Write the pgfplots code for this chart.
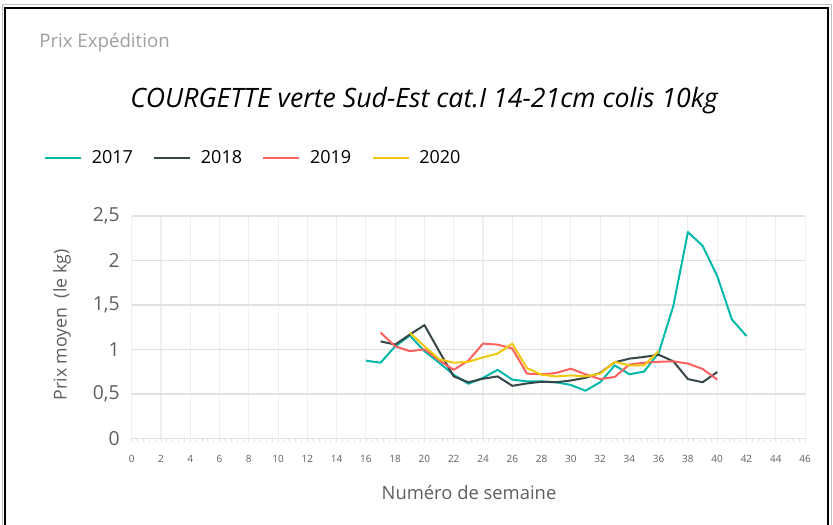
\documentclass[border=0pt]{standalone}
\usepackage{pgfplots}
\pgfplotsset{compat=1.18}
\usepackage{fontspec}
\setmainfont{Open Sans}
\definecolor{c17}{HTML}{01B8AA}
\definecolor{c18}{HTML}{374649}
\definecolor{c19}{HTML}{FD625E}
\definecolor{c20}{HTML}{F2C80F}
\definecolor{txtgray}{HTML}{605E5C}
\definecolor{gridx}{HTML}{EFEFEF}
\definecolor{gridy}{HTML}{E1E1E1}
\begin{document}
\begin{tikzpicture}[x=0.75pt,y=0.75pt]
\path[use as bounding box] (0,0) rectangle (833,525);
\draw[gray!50, line width=0.75pt] (2,-2) -- (2,520) -- (831,520) -- (831,-2);
\draw[line width=1.5pt] (5,-2) -- (5,517) -- (828,517) -- (828,-2);
\node[anchor=west, text=gray!75, inner sep=0pt] at (39,482) {\fontsize{14}{16}\selectfont Prix Expédition};
\node[inner sep=0pt] at (424,424) {\fontsize{20}{23}\selectfont\itshape COURGETTE verte Sud-Est cat.I 14-21cm colis 10kg};
\node[rotate=90, text=txtgray, inner sep=0pt] at (62,200) {\fontsize{13.3}{15}\selectfont Prix moyen\ \ (le kg)};
\node[text=txtgray, inner sep=0pt] at (469,32) {\fontsize{13.8}{16}\selectfont Numéro de semaine};
\begin{axis}[
  at={(98.78pt,65.03pt)}, anchor=south west,
  scale only axis, width=505pt, height=166.7pt,
  xmin=0, xmax=46, ymin=0, ymax=2.5,
  xtick={0,2,...,46}, ytick={0,0.5,...,2.5},
  minor x tick num=4,
  xtick pos=bottom, ytick pos=left,
  axis line style={draw=none},
  xmajorgrids, ymajorgrids,
  x grid style={gridx, line width=0.8pt},
  y grid style={gridy, line width=1pt},
  tick align=outside,
  major x tick style={gridy, line width=0.6pt},
  minor x tick style={gridy, line width=0.6pt},
  major tick length=2.5pt, minor tick length=2.5pt,
  ytick style={draw=none},
  /pgf/number format/assume math mode=true,
  /pgf/number format/use comma,
  yticklabel style={text=txtgray, font=\fontsize{14.5}{16}\selectfont, xshift=-3pt},
  xticklabel style={text=txtgray, font=\fontsize{7.5}{9}\selectfont, yshift=-7pt},
  legend style={at={(-0.131,1.261)}, anchor=west, draw=none, fill=none,
    font=\fontsize{13.5}{15}\selectfont, legend columns=4, inner sep=0pt,
    /tikz/every even column/.append style={column sep=13pt},
    /tikz/every odd column/.append style={column sep=5pt}},
  legend cell align=left,
  legend image code/.code={\draw[#1, line width=2pt] (0pt,0pt) -- (27pt,0pt);},
  every axis plot/.append style={line width=1.5pt, mark=none, line join=round},
]
\addplot[c17] coordinates {
(16,0.873)(17,0.85)(18,1.035)(19,1.156)(20,0.98)(21,0.85)(22,0.715)(23,0.613)(24,0.68)(25,0.77)(26,0.66)(27,0.64)(28,0.64)(29,0.63)(30,0.6)(31,0.535)(32,0.63)(33,0.82)(34,0.72)(35,0.75)(36,0.96)(37,1.487)(38,2.32)(39,2.165)(40,1.826)(41,1.337)(42,1.15)};
\addlegendentry{2017}
\addplot[c18] coordinates {
(17,1.09)(18,1.054)(19,1.167)(20,1.273)(21,0.98)(22,0.696)(23,0.63)(24,0.67)(25,0.696)(26,0.59)(27,0.617)(28,0.636)(29,0.63)(30,0.65)(31,0.68)(32,0.735)(33,0.855)(34,0.896)(35,0.915)(36,0.94)(37,0.866)(38,0.666)(39,0.63)(40,0.745)};
\addlegendentry{2018}
\addplot[c19] coordinates {
(17,1.19)(18,1.035)(19,0.98)(20,1.0)(21,0.877)(22,0.77)(23,0.873)(24,1.065)(25,1.054)(26,1.01)(27,0.727)(28,0.72)(29,0.735)(30,0.783)(31,0.72)(32,0.666)(33,0.69)(34,0.83)(35,0.85)(36,0.86)(37,0.866)(38,0.84)(39,0.78)(40,0.66)};
\addlegendentry{2019}
\addplot[c20] coordinates {
(19,1.186)(20,1.035)(21,0.89)(22,0.85)(23,0.86)(24,0.91)(25,0.953)(26,1.065)(27,0.79)(28,0.715)(29,0.696)(30,0.707)(31,0.696)(32,0.727)(33,0.86)(34,0.82)(35,0.82)(36,0.98)};
\addlegendentry{2020}
\end{axis}
\end{tikzpicture}
\end{document}
